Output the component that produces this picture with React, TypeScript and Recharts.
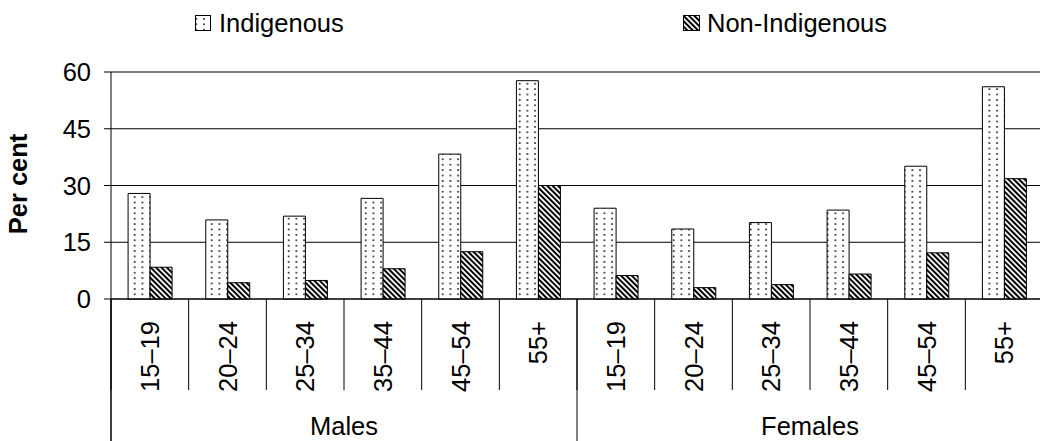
import React from "react"
import { BarChart, Bar, XAxis, YAxis, CartesianGrid } from "recharts"

const GROUPS = ["Males", "Females"]
const AGES = ["15–19", "20–24", "25–34", "35–44", "45–54", "55+"]
const INDIGENOUS_M = [27.9, 20.9, 21.9, 26.6, 38.3, 57.7]
const NON_INDIGENOUS_M = [8.4, 4.3, 4.9, 8.0, 12.5, 30.0]
const INDIGENOUS_F = [24.0, 18.5, 20.2, 23.5, 35.1, 56.1]
const NON_INDIGENOUS_F = [6.2, 3.0, 3.8, 6.6, 12.2, 31.8]
const Y_TICKS = [0, 15, 30, 45, 60]

const FONT = "'Liberation Sans', Arial, sans-serif"
const FS = 25.5
const AXIS_Y = 299
const BAND_HALF = (1043 - 111) / 24

const data = GROUPS.flatMap((g, gi) =>
  AGES.map((age, ai) => ({
    key: `${g}-${age}`,
    age,
    group: g,
    indigenous: gi === 0 ? INDIGENOUS_M[ai] : INDIGENOUS_F[ai],
    nonIndigenous: gi === 0 ? NON_INDIGENOUS_M[ai] : NON_INDIGENOUS_F[ai],
  }))
)

const Patterns = () => (
  <defs>
    <pattern id="dots" patternUnits="userSpaceOnUse" width="7.7" height="5.4">
      <rect width="7.7" height="5.4" fill="#fff" />
      <circle cx="3.8" cy="2.7" r="0.95" fill="#111" />
    </pattern>
    <pattern id="stripes" patternUnits="userSpaceOnUse" width="3.8" height="3.8" patternTransform="rotate(-45)">
      <rect width="3.8" height="3.8" fill="#fff" />
      <rect width="2" height="3.8" fill="#000" />
    </pattern>
  </defs>
)

const AgeTick = (props: any) => {
  const { x, index, payload } = props
  const off = payload?.offset ?? BAND_HALF
  const label = AGES[index % AGES.length]
  const ty = 321
  return (
    <g>
      <line x1={x - off} y1={AXIS_Y} x2={x - off} y2={390} stroke="#000" strokeWidth={1} />
      <text
        x={x}
        y={ty}
        dy="0.36em"
        transform={`rotate(-90 ${x} ${ty})`}
        textAnchor="end"
        fontFamily={FONT}
        fontSize={FS}
        fill="#000"
      >
        {label}
      </text>
    </g>
  )
}

const GroupTick = (props: any) => {
  const { x, index, payload } = props
  if (index % AGES.length !== 0) return <g />
  const off = payload?.offset ?? BAND_HALF
  const left = x - off
  const center = left + off * AGES.length
  return (
    <g>
      <line x1={left} y1={AXIS_Y} x2={left} y2={441} stroke="#000" strokeWidth={1} />
      <text x={center} y={435} textAnchor="middle" fontFamily={FONT} fontSize={FS} fill="#000">
        {GROUPS[Math.floor(index / AGES.length)]}
      </text>
    </g>
  )
}

const PerCentLabel = () => (
  <text
    x={27}
    y={184}
    transform="rotate(-90 27 184)"
    textAnchor="middle"
    fontFamily={FONT}
    fontSize={FS}
    fontWeight="bold"
    fill="#000"
  >
    Per cent
  </text>
)

const LegendSvg = () => (
  <svg width={1040} height={45} style={{ position: "absolute", left: 0, top: 0 }}>
    <Patterns />
    <rect x={195.5} y={15.5} width={15} height={15} fill="url(#dots)" stroke="#000" strokeWidth={1} />
    <text x={219} y={32} fontFamily={FONT} fontSize={FS} fill="#000">
      Indigenous
    </text>
    <rect x={683.5} y={15.5} width={16} height={15} fill="url(#stripes)" stroke="#000" strokeWidth={1} />
    <text x={707} y={32} fontFamily={FONT} fontSize={FS} fill="#000">
      Non-Indigenous
    </text>
  </svg>
)

export default function App() {
  return (
    <div style={{ position: "absolute", left: 0, top: 0, width: 1040, height: 441, overflow: "hidden", background: "#fff" }}>
      <BarChart
        width={1043}
        height={441}
        data={data}
        margin={{ top: 72, right: 0, bottom: 0, left: 0 }}
        barCategoryGap="22%"
        barGap={0}
      >
        <Patterns />
        <CartesianGrid vertical={false} stroke="#000" strokeWidth={1} />
        <XAxis
          xAxisId="age"
          dataKey="key"
          height={91}
          tickLine={false}
          tickSize={0}
          tickMargin={0}
          axisLine={{ stroke: "#000", strokeWidth: 1 }}
          tick={<AgeTick />}
          interval={0}
        />
        <XAxis
          xAxisId="group"
          dataKey="key"
          height={51}
          tickLine={false}
          tickSize={0}
          tickMargin={0}
          axisLine={false}
          tick={<GroupTick />}
          interval={0}
        />
        <YAxis
          width={111}
          domain={[0, 60]}
          ticks={Y_TICKS}
          interval={0}
          tickSize={7}
          tickMargin={13}
          tickLine={{ stroke: "#000" }}
          axisLine={{ stroke: "#000" }}
          tick={{ fontFamily: FONT, fontSize: FS, fill: "#000" }}
          label={<PerCentLabel />}
        />
        <Bar xAxisId="age" dataKey="indigenous" fill="url(#dots)" stroke="#000" strokeWidth={1} isAnimationActive={false} />
        <Bar xAxisId="age" dataKey="nonIndigenous" fill="url(#stripes)" stroke="#000" strokeWidth={1} isAnimationActive={false} />
      </BarChart>
      <LegendSvg />
      <svg width={2} height={142} style={{ position: "absolute", left: 110, top: 299 }}>
        <line x1={1} y1={0} x2={1} y2={142} stroke="#000" strokeWidth={1} />
      </svg>
    </div>
  )
}
